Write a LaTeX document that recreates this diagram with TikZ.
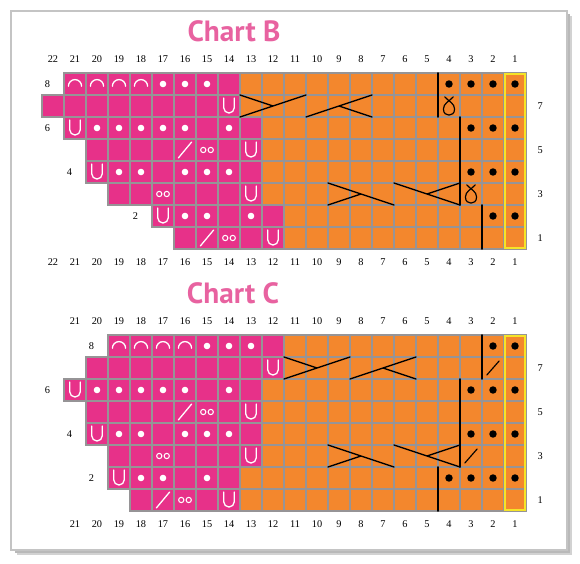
\documentclass[tikz,border=0pt]{standalone}
\usepackage{fontspec}
\setmainfont{Liberation Serif}
\newfontfamily\titlefont{PT Sans}
\usepackage{tikz}
\definecolor{chpink}{RGB}{231,49,137}
\definecolor{chorange}{RGB}{243,135,45}
\definecolor{titlepink}{RGB}{232,98,160}
\definecolor{gridgray}{RGB}{150,148,150}
\definecolor{edgeyellow}{RGB}{245,228,40}
\definecolor{framegray}{RGB}{196,196,196}

\begin{document}
\begin{tikzpicture}[line cap=round,font=\fontsize{8.8}{10}\selectfont,
  cell/.style={draw=gridgray,line width=1.05pt},
  wsym/.style={draw=white,line width=1.1pt},
  bsym/.style={draw=black,line width=1pt},
  cable/.style={black,line width=1.1pt},
  sepline/.style={black,line width=1.6pt},
  num/.style={inner sep=0pt},
  charttitle/.style={text=titlepink,font=\titlefont\bfseries\fontsize{25}{28}\selectfont},
  pics/arch/.style={code={\draw[wsym] (-0.3,-0.1) arc (180:0:0.3);}},
  pics/ucup/.style={code={\draw[wsym] (-0.24,0.36) -- (-0.24,-0.08) arc (180:360:0.24) -- (0.24,0.36);}},
  pics/twoloops/.style={code={\draw[wsym,line width=0.9pt] (-0.17,0) circle (0.12) (0.17,0) circle (0.12);}},
  pics/wslash/.style={code={\draw[wsym] (-0.3,-0.36) -- (0.3,0.36);}},
  pics/bslash/.style={code={\draw[bsym] (-0.28,-0.32) -- (0.28,0.32);}},
  pics/twist/.style={code={\draw[bsym,line width=1pt,scale=1.15] (-0.17,0.36) .. controls (0,0.18) and (0.22,0.1) .. (0.22,-0.12)
      .. controls (0.22,-0.3) and (0.1,-0.36) .. (0,-0.36) .. controls (-0.1,-0.36) and (-0.22,-0.3) .. (-0.22,-0.12)
      .. controls (-0.22,0.1) and (0,0.18) .. (0.17,0.36);}}]
\useasboundingbox (0,0) rectangle (17.4,16.92);
% frame with shadow
\fill[gray!35] (0.5,0.27) rectangle (17.16,16.45);
\fill[gray!55] (0.45,0.32) rectangle (17.11,16.5);
\filldraw[fill=white,draw=framegray,line width=2.2pt] (0.33,0.42) rectangle (17.01,16.59);

\node[charttitle] (titleB) at (7.02,15.99) {Chart B};
\node[charttitle] (titleC) at (6.99,8.13) {Chart C};

% Chart B
\begin{scope}[shift={(15.78,9.45)},x=0.66cm,y=0.66cm]
\foreach \r/\s/\p in {8/21/14,7/22/14,6/21/13,5/20/13,4/20/13,3/19/13,2/17/12,1/16/12}{
  \fill[chpink] (-\s,\r-1) rectangle (-\p+1,\r);
  \fill[chorange] (-\p+1,\r-1) rectangle (0,\r);
}
\foreach \r/\s in {8/21,7/22,6/21,5/20,4/20,3/19,2/17,1/16}
  \foreach \k in {1,...,\s} \draw[cell] (-\k,\r-1) rectangle ++(1,1);
\draw[edgeyellow,line width=1.8pt] (-0.95,0.05) rectangle (-0.05,7.95);
% stitch symbols
\foreach \k/\r in {21/8,20/8,19/8,18/8} \pic at (-\k+0.5,\r-0.5) {arch};
\foreach \k/\r in {14/7,21/6,13/5,20/4,13/3,17/2,12/1} \pic at (-\k+0.5,\r-0.5) {ucup};
\foreach \k/\r in {15/5,17/3,14/1} \pic at (-\k+0.5,\r-0.5) {twoloops};
\foreach \k/\r in {16/5,15/1} \pic at (-\k+0.5,\r-0.5) {wslash};
\foreach \k/\r in {17/8,16/8,15/8,20/6,19/6,18/6,17/6,16/6,14/6,19/4,18/4,16/4,15/4,14/4,16/2,15/2,13/2}
  \fill[white] (-\k+0.5,\r-0.5) circle (0.15);
\foreach \k/\r in {4/8,3/8,2/8,1/8,3/6,2/6,1/6,3/4,2/4,1/4,2/2,1/2}
  \fill[black] (-\k+0.5,\r-0.5) circle (0.17);
\pic at (-3.5,6.5) {twist};
\pic at (-2.5,2.5) {twist};
% cables
\draw[cable] (-13,6) -- (-10,7) (-13,7) -- (-11.5,6.5);
\draw[cable] (-10,6) -- (-7,7) (-8.5,6.5) -- (-7,6);
\draw[cable] (-9,3) -- (-6,2) (-9,2) -- (-7.5,2.5);
\draw[cable] (-6,3) -- (-3,2) (-4.5,2.5) -- (-3,3);
\draw[sepline] (-4,6) -- (-4,8);
\draw[sepline] (-3,2) -- (-3,6);
\draw[sepline] (-2,0) -- (-2,2);
% numbers
\foreach \k in {1,...,22}{
  \node[num] at (-\k+0.5,8.64) {\k};
  \node[num] at (-\k+0.5,-0.59) {\k};
}
\node[num] at (-21.75,7.5) {8};
\node[num] at (-21.75,5.5) {6};
\node[num] at (-20.75,3.5) {4};
\node[num] at (-17.75,1.5) {2};
\foreach \r in {1,3,5,7} \node[num] at (0.64,\r-0.5) {\r};
\end{scope}

% Chart C
\begin{scope}[shift={(15.78,1.59)},x=0.66cm,y=0.66cm]
\foreach \r/\s/\p in {8/19/12,7/20/12,6/21/13,5/20/13,4/20/13,3/19/13,2/19/14,1/18/14}{
  \fill[chpink] (-\s,\r-1) rectangle (-\p+1,\r);
  \fill[chorange] (-\p+1,\r-1) rectangle (0,\r);
}
\foreach \r/\s in {8/19,7/20,6/21,5/20,4/20,3/19,2/19,1/18}
  \foreach \k in {1,...,\s} \draw[cell] (-\k,\r-1) rectangle ++(1,1);
\draw[edgeyellow,line width=1.8pt] (-0.95,0.05) rectangle (-0.05,7.95);
% stitch symbols
\foreach \k/\r in {19/8,18/8,17/8,16/8} \pic at (-\k+0.5,\r-0.5) {arch};
\foreach \k/\r in {12/7,21/6,13/5,20/4,13/3,19/2,14/1} \pic at (-\k+0.5,\r-0.5) {ucup};
\foreach \k/\r in {15/5,17/3,16/1} \pic at (-\k+0.5,\r-0.5) {twoloops};
\foreach \k/\r in {16/5,17/1} \pic at (-\k+0.5,\r-0.5) {wslash};
\foreach \k/\r in {15/8,14/8,13/8,20/6,19/6,18/6,17/6,16/6,14/6,19/4,18/4,16/4,15/4,14/4,18/2,17/2,15/2}
  \fill[white] (-\k+0.5,\r-0.5) circle (0.15);
\foreach \k/\r in {2/8,1/8,3/6,2/6,1/6,3/4,2/4,1/4,4/2,3/2,2/2,1/2}
  \fill[black] (-\k+0.5,\r-0.5) circle (0.17);
\pic at (-1.5,6.5) {bslash};
\pic at (-2.5,2.5) {bslash};
% cables
\draw[cable] (-11,6) -- (-8,7) (-11,7) -- (-9.5,6.5);
\draw[cable] (-8,6) -- (-5,7) (-6.5,6.5) -- (-5,6);
\draw[cable] (-9,3) -- (-6,2) (-9,2) -- (-7.5,2.5);
\draw[cable] (-6,3) -- (-3,2) (-4.5,2.5) -- (-3,3);
\draw[sepline] (-2,6) -- (-2,8);
\draw[sepline] (-3,2) -- (-3,6);
\draw[sepline] (-4,0) -- (-4,2);
% numbers
\foreach \k in {1,...,21}{
  \node[num] at (-\k+0.5,8.64) {\k};
  \node[num] at (-\k+0.5,-0.59) {\k};
}
\node[num] at (-19.75,7.5) {8};
\node[num] at (-21.75,5.5) {6};
\node[num] at (-20.75,3.5) {4};
\node[num] at (-19.75,1.5) {2};
\foreach \r in {1,3,5,7} \node[num] at (0.64,\r-0.5) {\r};
\end{scope}
\end{tikzpicture}
\end{document}
